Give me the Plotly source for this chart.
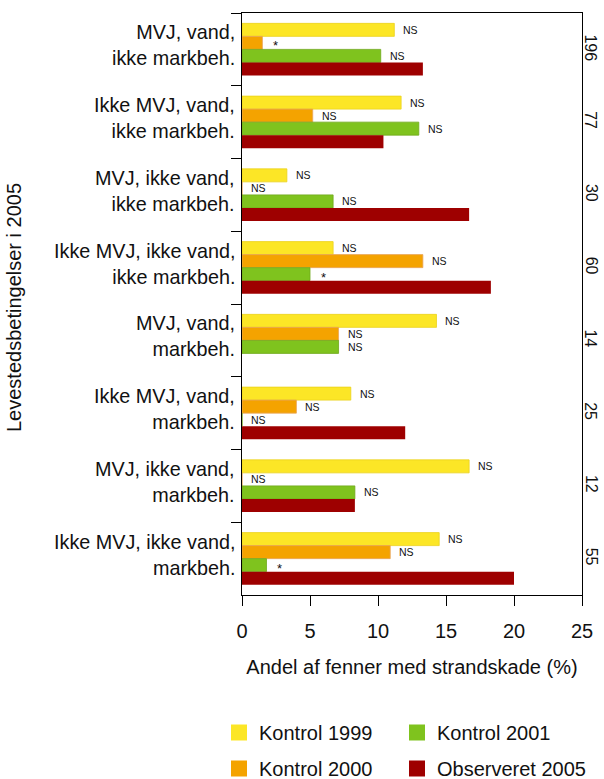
import plotly.graph_objects as go

# Habitat conditions in 2005 (top to bottom)
categories = [
    "MVJ, vand,<br>ikke markbeh.",
    "Ikke MVJ, vand,<br>ikke markbeh.",
    "MVJ, ikke vand,<br>ikke markbeh.",
    "Ikke MVJ, ikke vand,<br>ikke markbeh.",
    "MVJ, vand,<br>markbeh.",
    "Ikke MVJ, vand,<br>markbeh.",
    "MVJ, ikke vand,<br>markbeh.",
    "Ikke MVJ, ikke vand,<br>markbeh.",
]
# Number of fens per habitat class
n_fenner = ["196", "77", "30", "60", "14", "25", "12", "55"]

# Share of fens with shore damage (%)
kontrol_1999 = [11.2, 11.7, 3.3, 6.7, 14.3, 8.0, 16.7, 14.5]
kontrol_2000 = [1.5, 5.2, 0.0, 13.3, 7.1, 4.0, 0.0, 10.9]
kontrol_2001 = [10.2, 13.0, 6.7, 5.0, 7.1, 0.0, 8.3, 1.8]
observeret_2005 = [13.3, 10.4, 16.7, 18.3, 0.0, 12.0, 8.3, 20.0]

# Significance of each control year against 2005
sig_1999 = ["NS", "NS", "NS", "NS", "NS", "NS", "NS", "NS"]
sig_2000 = ["*", "NS", "NS", "NS", "NS", "NS", "NS", "NS"]
sig_2001 = ["NS", "NS", "NS", "*", "NS", "NS", "NS", "*"]

series_names = ["Kontrol 1999", "Kontrol 2000", "Kontrol 2001", "Observeret 2005"]
series_values = [kontrol_1999, kontrol_2000, kontrol_2001, observeret_2005]
series_sig = [sig_1999, sig_2000, sig_2001, None]
fill_colors = ["#FCE626", "#F4A300", "#7FC31E", "#9E0000"]
edge_colors = ["#EBD21A", "#E8A55A", "#6FA81A", "#9E0000"]
edge_widths = [0.8, 0.8, 0.8, 0]
legend_ids = ["legend", "legend", "legend2", "legend2"]

FONT = "Liberation Sans, Arial, Helvetica, sans-serif"
BARGAP = 0.285

fig = go.Figure()

for name, vals, fc, ec, ew in zip(series_names, series_values, fill_colors,
                                  edge_colors, edge_widths):
    fig.add_trace(go.Bar(
        x=vals, y=categories, orientation="h", name=name,
        marker=dict(color=fc, line=dict(color=ec, width=ew)),
        showlegend=False,
    ))

# Legend entries with larger square swatches, in two columns
for name, fc, lid in zip(series_names, fill_colors, legend_ids):
    fig.add_trace(go.Scatter(
        x=[None], y=[None], mode="markers", name=name, legend=lid,
        legendgroup=name,
        marker=dict(symbol="square", size=16, color=fc, line=dict(width=0)),
        showlegend=True,
    ))

annotations = []
n_series = len(series_values)
bar_w = (1 - BARGAP) / n_series
for j, (vals, sigs) in enumerate(zip(series_values, series_sig)):
    if sigs is None:
        continue
    for i, (v, s) in enumerate(zip(vals, sigs)):
        ypos = i - (1 - BARGAP) / 2 + bar_w * (j + 0.5)
        star = s == "*"
        annotations.append(dict(
            x=v, y=ypos, xref="x", yref="y", text=s, showarrow=False,
            xanchor="left", yanchor="middle", xshift=7 if not star else 9,
            yshift=-3 if star else 0,
            font=dict(family=FONT, size=13 if star else 10.5, color="#111111"),
        ))

# Category labels, right-aligned against the y axis
for i, cat in enumerate(categories):
    annotations.append(dict(
        x=0, y=i, xref="paper", yref="y", text=cat, showarrow=False,
        xanchor="right", yanchor="middle", align="right", xshift=-5, yshift=4,
        font=dict(family=FONT, size=19.8, color="#111111"),
    ))

# Sample sizes on the right-hand side
for i, n in enumerate(n_fenner):
    annotations.append(dict(
        x=1, y=i, xref="paper", yref="y", text=n, showarrow=False,
        xanchor="center", yanchor="middle", xshift=9, yshift=2, textangle=90,
        font=dict(family=FONT, size=16, color="#111111"),
    ))

# Y-axis title
annotations.append(dict(
    x=0, y=0.5, xref="paper", yref="paper", text="Levestedsbetingelser i 2005",
    showarrow=False, textangle=-90, xanchor="center", yanchor="middle",
    xshift=-228, yshift=-4, font=dict(family=FONT, size=20, color="#111111"),
))

legend_common = dict(
    orientation="v", xanchor="left", xref="container", yref="container",
    y=1 - 713 / 779, yanchor="top",
    font=dict(family=FONT, size=20, color="#111111"),
    itemsizing="trace", traceorder="grouped", tracegroupgap=7,
    bgcolor="rgba(0,0,0,0)",
)

fig.update_layout(
    width=604, height=779,
    margin=dict(l=242, r=22, t=13, b=184, autoexpand=False),
    barmode="group", bargap=BARGAP, bargroupgap=0,
    plot_bgcolor="white", paper_bgcolor="white",
    font=dict(family=FONT, color="#111111"),
    annotations=annotations,
    legend=dict(x=219 / 604, **legend_common),
    legend2=dict(x=397 / 604, **legend_common),
    xaxis=dict(
        range=[0, 25], tickvals=[0, 5, 10, 15, 20, 25],
        ticks="outside", ticklen=10, tickwidth=1, tickcolor="black",
        ticklabelstandoff=8,
        showline=True, linecolor="black", linewidth=1, mirror=True,
        showgrid=False, zeroline=False, automargin=False,
        tickfont=dict(family=FONT, size=20),
        title=dict(text="Andel af fenner med strandskade (%)",
                   font=dict(family=FONT, size=20), standoff=18),
    ),
    yaxis=dict(
        type="category", categoryorder="array", categoryarray=categories,
        range=[7.5, -0.5], ticks="outside", tickson="boundaries",
        ticklen=10, tickwidth=1, tickcolor="black", showticklabels=False,
        showline=True, linecolor="black", linewidth=1, mirror=True,
        showgrid=False, zeroline=False, automargin=False,
    ),
)

fig.write_html("out.html")
